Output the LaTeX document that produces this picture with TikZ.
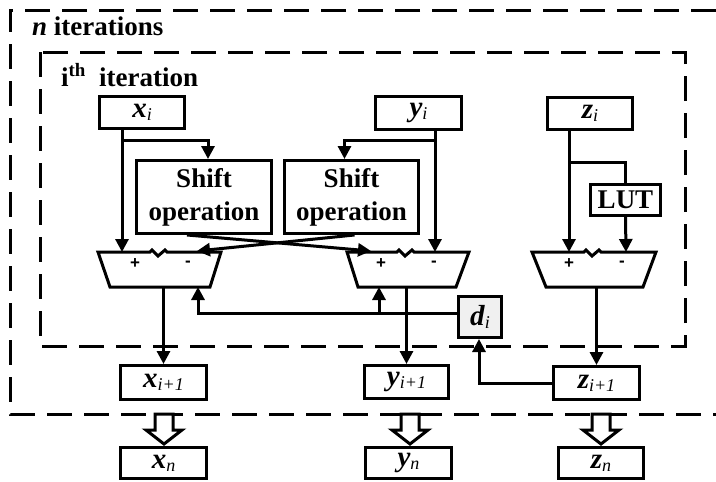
\documentclass[tikz,border=0pt]{standalone}
\usepackage{fontspec}
\setmainfont{Liberation Serif}
\newfontfamily\pmfont{Liberation Sans}
\usetikzlibrary{arrows.meta,calc}
\newcommand\vlbl[2]{{\fontsize{29}{33}\selectfont\textbf{\textit{#1}}}\raisebox{-3pt}{\fontsize{18}{18}\selectfont\mdseries\textit{#2}}}
\begin{document}
\begin{tikzpicture}[x=1pt,y=-1pt,
  box/.style={draw,line width=3pt,inner sep=0pt,font=\fontsize{27}{33}\selectfont\bfseries,align=center},
  conn/.style={line width=3pt},
  arr/.style={conn,-{Triangle[length=13pt,width=13pt]}},
  dashline/.style={line width=3pt,dash pattern=on 25pt off 12pt},
  adder/.style={line width=3pt,line join=miter},
  pm/.style={inner sep=0pt,font=\pmfont\bfseries\fontsize{17}{17}\selectfont},
  title/.style={inner sep=0pt,font=\fontsize{27}{32}\selectfont\bfseries},
  blockarr/.style={line width=3pt,fill=white,line join=miter}
]
\useasboundingbox (0,0) rectangle (716,482);
% dashed frames
\draw[dashline] (716,10) -- (10,10) -- (10,414) -- (716,414);
\draw[dashline] (40,52) rectangle (685,346);
% titles
\node[title,anchor=base west] (tn) at (32,35) {\textit{n} iterations};
\node[title,anchor=base west] (ti) at (61,86) {i\textsuperscript{th}};
\node[title,anchor=base west] (tit) at (99,86) {iteration};
% boxes
\node[box,minimum width=85pt,minimum height=32pt] (xi) at (142,112.5) {\vlbl{x}{i}};
\node[box,minimum width=86pt,minimum height=33pt] (yi) at (418.5,113) {\vlbl{y}{i}};
\node[box,minimum width=85pt,minimum height=32pt] (zi) at (590,113.5) {\vlbl{z}{i}};
\node[box,minimum width=135pt,minimum height=73pt] (s1) at (204,197) {Shift\\operation};
\node[box,minimum width=134pt,minimum height=73pt] (s2) at (351.5,197) {Shift\\operation};
\node[box,minimum width=70pt,minimum height=31pt] (lut) at (625.5,200) {LUT};
\node[box,fill=gray!12,minimum width=43pt,minimum height=41pt] (di) at (480,317) {\vlbl{d}{i}};
\node[box,minimum width=86pt,minimum height=34pt] (x1) at (163.5,382.5) {\vlbl{x}{i+1}};
\node[box,minimum width=84pt,minimum height=33pt] (y1) at (406.5,382) {\vlbl{y}{i+1}};
\node[box,minimum width=86pt,minimum height=33pt] (z1) at (596.5,383) {\vlbl{z}{i+1}};
\node[box,minimum width=86pt,minimum height=31pt] (xn) at (163.5,463) {\vlbl{x}{n}};
\node[box,minimum width=86pt,minimum height=31pt] (yn) at (408.5,463) {\vlbl{y}{n}};
\node[box,minimum width=85pt,minimum height=31pt] (zn) at (601,463) {\vlbl{z}{n}};
% adders
\draw[adder] (98,252) -- (150,252) -- (152,250) -- (158,256) -- (165,250) -- (167,252) -- (221,252) -- (210,287) -- (110,287) -- cycle;
\draw[adder] (347,252) -- (397,252) -- (399,250) -- (405,256) -- (412,250) -- (414,252) -- (469,252) -- (456,287) -- (358,287) -- cycle;
\draw[adder] (532,252) -- (584,252) -- (586,250) -- (592,256) -- (599,250) -- (601,252) -- (656,252) -- (643,287) -- (546,287) -- cycle;
\node[pm] (p1) at (135,264) {+};
\node[pm] (m1) at (188,264) {-};
\node[pm] (p2) at (381,264) {+};
\node[pm] (m2) at (434,264) {-};
\node[pm] (p3) at (569,264) {+};
\node[pm] (m3) at (622,264) {-};
% adder ports
\coordinate (a1i1) at (122,252);
\coordinate (a1i2) at (197,251);
\coordinate (a2i1) at (371,251);
\coordinate (a2i2) at (435,252);
\coordinate (a3i1) at (569,252);
\coordinate (a3i2) at (626,252);
\coordinate (a1o) at (163.5,287);
\coordinate (a2o) at (406.5,287);
\coordinate (a3o) at (596.5,287);
\coordinate (a1b) at (198,287);
\coordinate (a2b) at (379,287);
\coordinate (br1) at (122,140);
\coordinate (br2) at (435,140);
\coordinate (br3) at (569,162);
% connectors
\draw[arr] (xi.south -| br1) -- (a1i1);
\draw[arr] (br1) -| ([xshift=4pt]s1.north);
\draw[arr] (yi.south -| br2) -- (a2i2);
\draw[arr] (br2) -| ([xshift=-7pt]s2.north);
\draw[arr] ([xshift=-17pt]s1.south) -- (a2i1);
\draw[arr] ([xshift=3pt]s2.south) -- (a1i2);
\draw[arr] (zi.south -| br3) -- (a3i1);
\draw[conn] (br3) -| (lut.north);
\draw[arr] (lut.south) -- (a3i2);
\draw[arr] (a1o) -- (x1.north);
\draw[arr] (a2o) -- (y1.north);
\draw[arr] (a3o) -- (z1.north);
\draw[arr] ([yshift=4pt]di.west) -| (a1b);
\draw[arr] ([yshift=4pt]di.west -| a2b) -- (a2b);
\draw[arr] (z1.west) -| ([xshift=-1pt]di.south);
% block arrows
\foreach \n/\dx in {xn/0.5,yn/1.5,zn/0} {
  \draw[blockarr] ($(\n.north)+(\dx,0)+(-9,-32)$) -- ++(0,16) -- ++(-9,0) -- ++(18,14) -- ++(18,-14) -- ++(-9,0) -- ++(0,-16) -- cycle;
}
\end{tikzpicture}
\end{document}
